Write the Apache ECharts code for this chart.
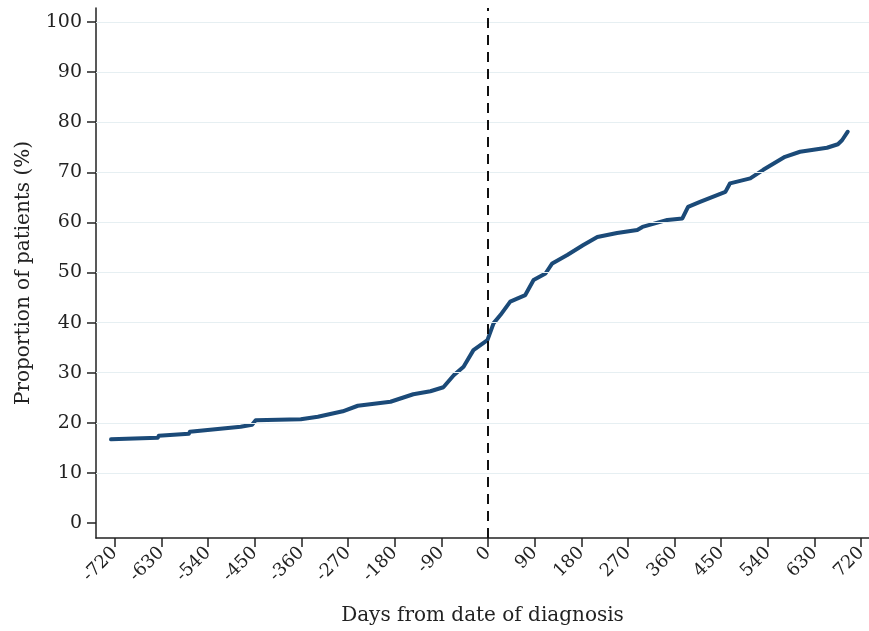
<!DOCTYPE html>
<html><head><meta charset="utf-8">
<script src="https://cdn.jsdelivr.net/npm/echarts@6/dist/echarts.min.js"></script>
<style>html,body{margin:0;padding:0;background:#fff}#c{width:869px;height:631px}</style>
</head><body><div id="c"></div>
<script>
const days = [-727,-637,-635,-577,-575,-477,-455,-448,-361,-328,-280,-251,-188,-144,-111,-86,-66,-47,-28,-1,11,24,43,72,88,111,124,153,184,211,249,288,298,346,375,386,409,458,467,506,531,573,602,654,675,683,694];
const proportion = [16.7,17.0,17.4,17.8,18.2,19.2,19.6,20.5,20.7,21.2,22.3,23.4,24.2,25.7,26.3,27.1,29.5,31.2,34.5,36.5,39.9,41.5,44.2,45.5,48.5,49.8,51.8,53.5,55.5,57.1,57.9,58.5,59.1,60.5,60.8,63.1,64.1,66.1,67.8,68.8,70.5,73.1,74.1,74.9,75.6,76.4,78.1];
const xTicks = [-720,-630,-540,-450,-360,-270,-180,-90,0,90,180,270,360,450,540,630,720];
const yTicks = [0,10,20,30,40,50,60,70,80,90,100];

const font = 'DejaVu Serif';
const chart = echarts.init(document.getElementById('c'));
chart.setOption({
  animation: false,
  grid: {left: 96, right: 0, top: 8, bottom: 93, containLabel: false, outerBoundsMode: 'none'},
  xAxis: {
    type: 'value', min: -756, max: 735,
    name: 'Days from date of diagnosis', nameLocation: 'middle', nameGap: 68,
    nameTextStyle: {fontFamily: font, fontSize: 20, color: '#222'},
    axisLine: {show: true, onZero: false, lineStyle: {color: '#222', width: 1.5}},
    axisTick: {show: true, customValues: xTicks, length: 9, lineStyle: {color: '#222', width: 1.5}},
    axisLabel: {customValues: xTicks, rotate: 45, margin: 12, fontFamily: font, fontSize: 18, color: '#222'},
    splitLine: {show: false}
  },
  yAxis: {
    type: 'value', min: -3, max: 102.8,
    name: 'Proportion of patients (%)', nameLocation: 'middle', nameGap: 62, nameRotate: 90,
    nameTextStyle: {fontFamily: font, fontSize: 20, color: '#222'},
    axisLine: {show: true, onZero: false, lineStyle: {color: '#222', width: 1.5}},
    axisTick: {show: true, customValues: yTicks, length: 9, lineStyle: {color: '#222', width: 1.5}},
    axisLabel: {customValues: yTicks, margin: 14, fontFamily: font, fontSize: 19, color: '#222'},
    splitLine: {show: false}
  },
  series: [
    {
      type: 'line', data: [], silent: true,
      markLine: {
        silent: true, symbol: 'none', label: {show: false},
        lineStyle: {color: '#e6eff2', width: 1.2, type: 'solid'},
        data: yTicks.filter(v => v > 0).map(v => ({yAxis: v}))
      }
    },
    {
      type: 'line', data: [], silent: true,
      markLine: {
        silent: true, symbol: 'none', label: {show: false},
        lineStyle: {color: '#111', width: 2, type: [10, 7]},
        data: [{xAxis: 0}]
      }
    },
    {
      type: 'line', showSymbol: false, smooth: false,
      data: days.map((d, i) => [d, proportion[i]]),
      lineStyle: {color: '#1b4a78', width: 4, cap: 'round', join: 'round'},
      itemStyle: {color: '#1b4a78'}
    }
  ]
});
</script></body></html>
